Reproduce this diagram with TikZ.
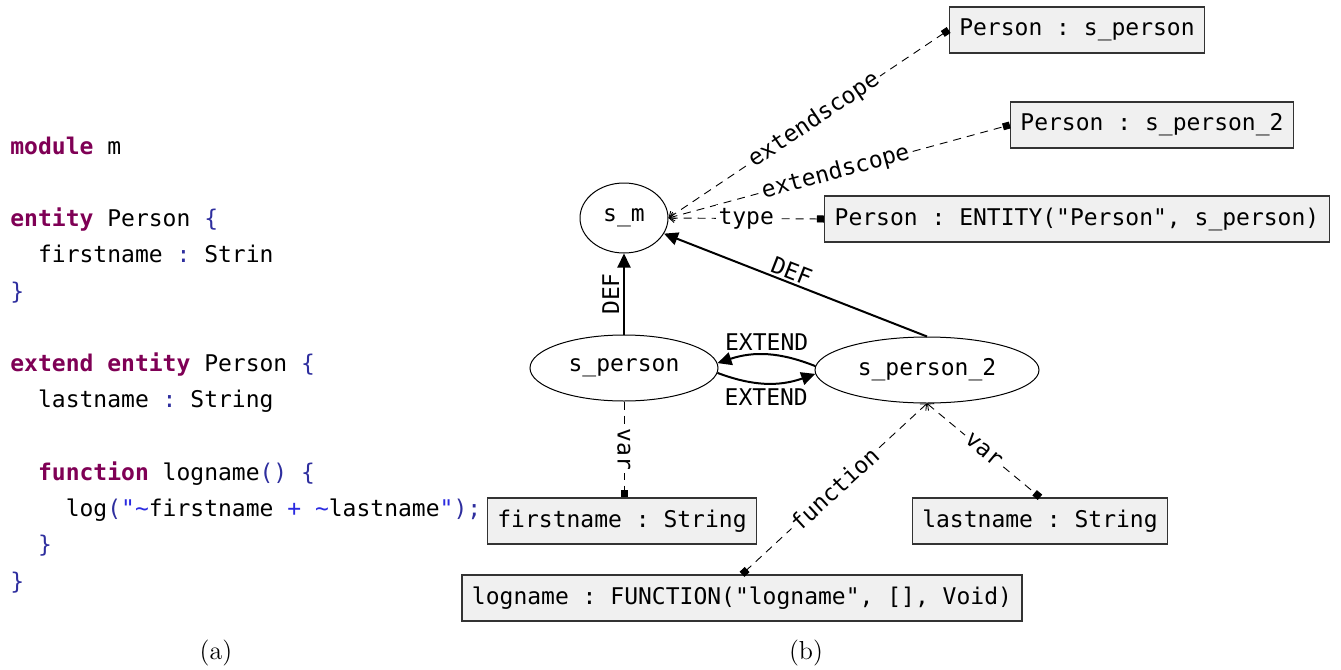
\documentclass[tikz,border=0pt]{standalone}
\usepackage{fontspec}
\setmonofont{DejaVu Sans Mono}
\usetikzlibrary{shapes.geometric,arrows.meta}

\definecolor{kwcol}{HTML}{7F0055}
\definecolor{symcol}{HTML}{2E2E9E}
\definecolor{strcol}{HTML}{2A2AE0}
\definecolor{boxfill}{HTML}{F0F0F0}

% syntax highlighting helpers for the listing
\newcommand{\ckw}[1]{\textbf{\textcolor{kwcol}{#1}}}
\newcommand{\csym}[1]{\textcolor{symcol}{#1}}
\newcommand{\cstr}[1]{\textcolor{strcol}{#1}}
\newcommand{\monofont}{\ttfamily\fontsize{11.5}{14}\selectfont}

\begin{document}
\begin{tikzpicture}[x=0.5pt,y=-0.5pt,
  every node/.style={font=\monofont},
  code/.style={anchor=base west, inner sep=0pt},
  ell/.style={draw, ellipse, line width=0.5pt, inner sep=0pt},
  box/.style={draw=black!80, fill=boxfill, line width=0.7pt,
              minimum height=23pt, inner xsep=5pt, inner ysep=0pt},
  solidedge/.style={draw, line width=1pt, -{Triangle[length=7pt,width=6.5pt]}},
  dep/.style={draw, line width=0.45pt, dash pattern=on 4pt off 3pt},
  barbsq/.style={{Straight Barb[length=2.5pt,width=4.5pt]}-{Square[length=3.5pt,width=3.5pt]}},
  sq/.style={-{Square[length=3.5pt,width=3.5pt]}},
  lab/.style={fill=white, inner sep=1.5pt},
  caption/.style={font=\rmfamily\fontsize{13}{15}\selectfont}]

\useasboundingbox (0,0) rectangle (1341,670);

% ---- (a) source listing ----
\node[code] (c1)  at (10,154)     {\ckw{module} m};
\node[code] (c2)  at (10,226.5)   {\ckw{entity} Person \csym{\{}};
\node[code] (c3)  at (37.7,262.75){firstname \csym{:} Strin};
\node[code] (c4)  at (10,299)     {\csym{\}}};
\node[code] (c5)  at (10,371.5)   {\ckw{extend} \ckw{entity} Person \csym{\{}};
\node[code] (c6)  at (37.7,407.75){lastname \csym{:} String};
\node[code] (c7)  at (37.7,480.25){\ckw{function} logname\csym{()} \csym{\{}};
\node[code] (c8)  at (65.4,516.5) {log\csym{(}\cstr{"\textasciitilde}firstname \cstr{+} \cstr{\textasciitilde}lastname\cstr{"}\csym{);}};
\node[code] (c9)  at (37.7,552.75){\csym{\}}};
\node[code] (c10) at (10,589)     {\csym{\}}};

% ---- (b) scope graph: scopes ----
\node[ell, minimum width=44pt, minimum height=35pt, label=center:{s\_m}] (sm) at (624,218) {};
\node[ell, minimum width=94pt, minimum height=33pt, label=center:{s\_person}] (sp) at (624,368) {};
\node[ell, minimum width=112pt, minimum height=33pt, label=center:{s\_person\_2}] (s2) at (927,370) {};

% ---- declarations ----
\node[box] (b1) at (1077,30)  {Person : s\_person};
\node[box] (b2) at (1152,125) {Person : s\_person\_2};
\node[box] (b3) at (1077,219) {Person : ENTITY("Person", s\_person)};
\node[box] (b4) at (622,521)  {firstname : String};
\node[box] (b5) at (1040,521) {lastname : String};
\node[box] (b6) at (742,598)  {logname : FUNCTION("logname", [], Void)};

% ---- declaration edges ----
\draw[dep, barbsq] (sm.east) -- node[lab, sloped, pos=0.52] {extendscope} (b1.west);
\draw[dep, barbsq] (sm.east) -- node[lab, sloped, pos=0.49] {extendscope} (b2.west);
\draw[dep, barbsq] (sm.east) -- node[lab] {type} (b3.west);
\draw[dep, sq] (sp.south) -- node[lab, rotate=-90] {var} (sp.south |- b4.north);
\draw[dep, barbsq] (s2.south) -- node[lab, sloped] {function} (b6.north);
\draw[dep, barbsq] (s2.south) -- node[lab, sloped] {var} (b5.north);

% ---- scope edges ----
\draw[solidedge] (sp.north) -- node[sloped, above, inner sep=2pt] {DEF} (sm.south);
\draw[line width=1pt, {Triangle[length=7pt,width=6.5pt]}-] (sm) -- node[sloped, above, inner sep=1pt, pos=0.47] {DEF} (s2.north);
\draw[solidedge] (s2.178) to[bend right=20] node[above, inner sep=1.5pt] {EXTEND} (sp.3);
\draw[solidedge] (sp.-3) to[bend right=20] node[below, inner sep=2.5pt] {EXTEND} (s2.182);

% ---- captions ----
\node[caption] (capa) at (216,653) {(a)};
\node[caption] (capb) at (806,653) {(b)};
\end{tikzpicture}
\end{document}
